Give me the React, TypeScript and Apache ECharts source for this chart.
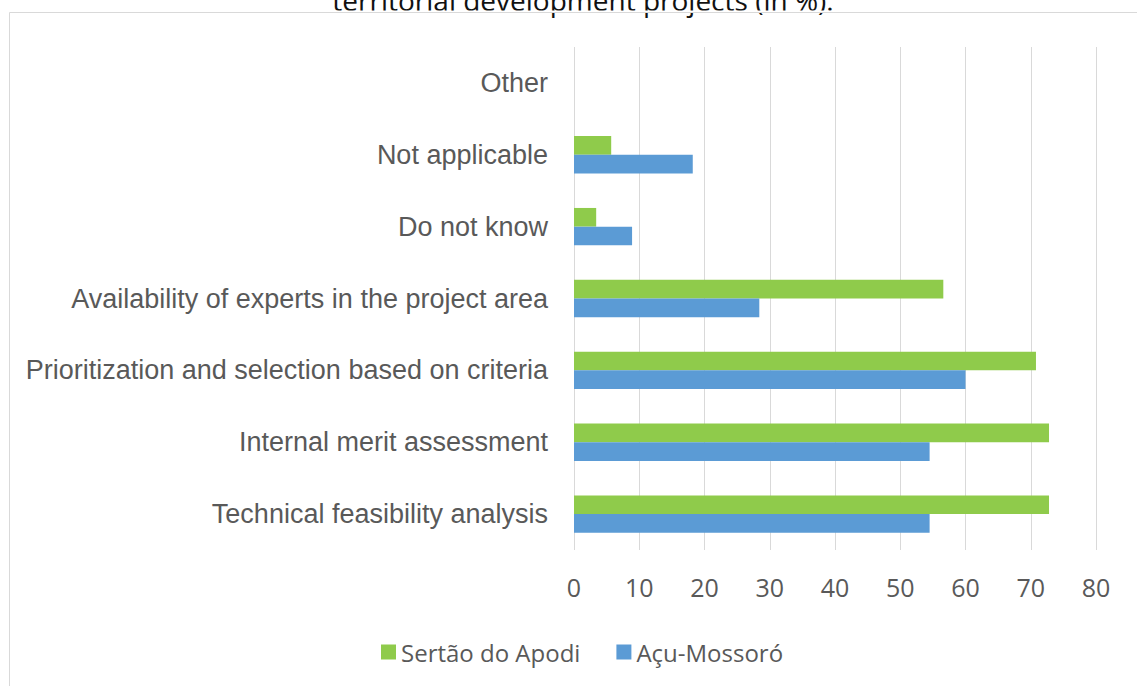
import React, { useEffect, useRef } from "react";
import * as echarts from "echarts";

const categories = [
  "Technical feasibility analysis",
  "Internal merit assessment",
  "Prioritization and selection based on criteria",
  "Availability of experts in the project area",
  "Do not know",
  "Not applicable",
  "Other",
];
const seriesNames = ["Sertão do Apodi", "Açu-Mossoró"];
const sertaoValues = [72.8, 72.8, 70.8, 56.6, 3.4, 5.7, 0];
const acuValues = [54.5, 54.5, 60.0, 28.4, 8.9, 18.2, 0];
const xTicks = { min: 0, max: 80, interval: 10 };
const titleText = "territorial development projects (in %).";

export default function App() {
  const ref = useRef<HTMLDivElement>(null);
  useEffect(() => {
    if (!ref.current) return;
    const chart = echarts.init(ref.current, null, { renderer: "svg" });
    chart.setOption({
      animation: false,
      backgroundColor: "#ffffff",
      graphic: [
        {
          type: "text",
          x: 583,
          y: -0.5,
          z: 1,
          style: {
            text: titleText,
            font: '28px "Open Sans"',
            fill: "#111111",
            align: "center",
            verticalAlign: "middle",
          },
          silent: true,
        },
        {
          type: "rect",
          z: 2,
          shape: { x: 0, y: 10.5, width: 1137, height: 2 },
          style: { fill: "#ffffff", stroke: "none" },
          silent: true,
        },
        {
          type: "rect",
          z: 3,
          shape: { x: 9.5, y: 12.5, width: 1140, height: 700 },
          style: { fill: "none", stroke: "#d9d9d9", lineWidth: 1 },
          silent: true,
        },
      ],
      legend: {
        left: 376,
        top: 635,
        icon: "rect",
        itemWidth: 15,
        itemHeight: 15,
        itemGap: 36,
        data: seriesNames,
        textStyle: { fontFamily: "Open Sans", fontSize: 24, color: "#595959" },
      },
      grid: { left: 574, right: 41, top: 47, bottom: 136, containLabel: false },
      xAxis: {
        type: "value",
        min: xTicks.min,
        max: xTicks.max,
        interval: xTicks.interval,
        axisLine: { show: false },
        axisTick: { show: false },
        splitLine: { show: true, lineStyle: { color: "#d9d9d9", width: 1 } },
        axisLabel: { fontFamily: "Open Sans", fontSize: 25, color: "#595959", margin: 24 },
      },
      yAxis: {
        type: "category",
        data: categories,
        axisLine: { show: false },
        axisTick: { show: false },
        axisLabel: { fontFamily: "Liberation Sans", fontSize: 27, color: "#595959", margin: 26 },
      },
      series: [
        {
          name: seriesNames[0],
          type: "bar",
          data: sertaoValues,
          itemStyle: { color: "#8fcb4b" },
          barGap: "0%",
          barCategoryGap: "48%",
        },
        {
          name: seriesNames[1],
          type: "bar",
          data: acuValues,
          itemStyle: { color: "#5b9bd5" },
          barGap: "0%",
          barCategoryGap: "48%",
        },
      ],
    });
    return () => chart.dispose();
  }, []);
  return (
    <div
      ref={ref}
      style={{ position: "fixed", left: 0, top: 0, width: 1137, height: 686 }}
    />
  );
}
